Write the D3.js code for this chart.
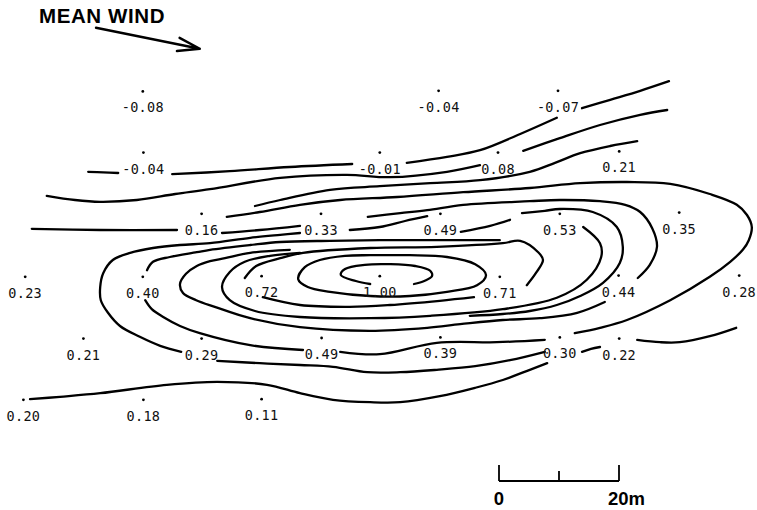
<!DOCTYPE html>
<html><head><meta charset="utf-8">
<script src="https://cdn.jsdelivr.net/npm/d3@7"></script>
<style>body{margin:0;background:#fff}svg{display:block;background:#fff}</style>
</head><body>
<svg id="chart" width="757" height="510"></svg>
<script>
// ---- DATA (map coordinates in metres, x east, y south) ----
// Station rows: [x, y, value]
const stationsRow1 = [[19.8,-0.1,-0.08],[69.1,-0.2,-0.04],[89.0,-0.2,-0.07]];
const stationsRow2 = [[19.9,10.1,-0.04],[59.3,10.1,-0.01],[79.0,10.1,0.08],[99.2,9.9,0.21]];
const stationsRow3 = [[29.6,20.3,0.16],[49.5,20.3,0.33],[69.4,20.3,0.49],[89.3,20.3,0.53],[109.2,20.1,0.35]];
const stationsRow4 = [[0.2,30.8,0.23],[19.8,30.8,0.40],[39.6,30.7,0.72],[59.3,30.7,1.00],[79.3,30.8,0.71],[99.1,30.6,0.44],[119.2,30.6,0.28]];
const stationsRow5 = [[9.9,41.1,0.21],[29.6,41.1,0.29],[49.6,41.0,0.49],[69.4,40.9,0.39],[89.3,40.9,0.30],[99.2,41.1,0.22]];
const stationsRow6 = [[-0.1,51.3,0.20],[19.9,51.3,0.18],[39.6,51.2,0.11]];

// Contour lines (hand-drawn isolines), vertices in metres
const lineA1 = [[93,2.7],[97.7,1.3],[102.7,-0.2],[107.5,-1.8]];
const lineB1 = [[10.7,13.3],[13.2,13.4],[15.7,13.5]];
const lineB2 = [[24.7,13.7],[34.3,13.2],[44.3,12.5],[54.7,12]];
const lineB3 = [[63.8,11.8],[70.5,10.8],[76,9.7],[82.7,7],[88.8,4.3]];
const lineC1 = [[3.8,17.3],[8.5,18],[12.7,18.3],[18.8,18],[25.2,17],[31,16.2],[42.7,14.3],[53.8,13.8],[61,14.2],[70.5,13.3],[76,12.2]];
const lineC2 = [[83.2,9.8],[89.3,7.7],[96,5.5],[102.7,3.8],[107.2,3]];
const lineD = [[38.5,19],[42.7,18],[51,16.3],[59.3,15.7],[67.7,15.2],[76,14.7],[84.3,13.3],[88.5,11.8],[92.7,10.2],[97.7,9],[102.2,8.2]];
const lineOuter = [[33.8,20.8],[39.3,20],[46,18.8],[52.7,18],[62.2,17.5],[73.2,16.7],[84.3,16],[92.7,15.2],[100.5,15],[107.7,15.3],[114.3,17],[118.8,18.8],[120.5,20.5],[121.3,22.5],[120.8,24.7],[119.8,26.3],[117.7,28.3],[114.3,30.8],[107.7,34.7],[100.5,38],[96,39.3],[91.8,40.2]];
const lineX = [[57.3,20.8],[62.7,20.2],[67.2,19.7],[73.2,18.8],[84.3,18.2],[89.3,18],[96,18.2],[100.2,18.8],[102.7,20],[104.7,22.7],[105.5,25.8],[104.3,28.8],[102.3,31]];
const lineE1 = [[1.3,22.8],[12.7,23],[25.5,23]];
const lineE2 = [[33,23.5],[39.3,23],[46,22.3]];
const lineE3 = [[54.3,23],[59.3,22.5],[63.5,21.5],[67.2,20.7]];
const lineE4 = [[72.8,23.3],[77.7,22.3],[81,21.3]];
const lineY = [[83,20.2],[86.8,19.8],[89.3,19.5],[94.8,20],[98.8,22.5],[99.8,25.8],[99.3,28.5],[96.5,31.8],[92.7,34],[88.8,35.5],[84.3,36.5],[79.8,37],[74.3,37.3]];
const lineArcA = [[26.2,43.3],[22.7,42.3],[19.3,40.8],[16,39],[14,36.8],[12.8,34.7],[12.7,32.5],[13.2,30.2],[14.8,28],[17.7,26.8],[21.5,26],[26,25.5],[31,25.2],[37.7,24.3],[42.7,23.8],[46,23.5]];
const lineArcBTop = [[20.5,29.7],[21.5,28.3],[24.3,27.5],[28.8,26.7],[31,26.3],[37.7,25.5],[42.7,25],[51,24.8],[59.3,24.7],[69.3,24.7],[79.3,24.7]];
const lineArcBBottom1 = [[20.2,34.7],[21.3,36.2],[23.2,37.5],[26,39],[29.3,40.2],[37.7,42.2],[46.5,43]];
const lineArcBBottom2 = [[52.7,43.3],[59.3,43.7],[68.8,41.8],[78.8,41.7],[86.8,41.3]];
const lineArcC = [[44.3,26.3],[37.7,26.8],[33.5,27.7],[31,28.2],[28.8,29],[27,30.3],[26,32],[26.5,33.5],[28.7,34.7],[31.8,35.8],[37.7,37.7],[46,39.2],[57.7,39.8],[67.2,39.3],[72.7,38.7],[79.8,38],[86,37.7],[92.2,36.8],[96.8,35]];
const lineArcD = [[46,26.8],[41,27.3],[36.8,28.3],[34.3,30],[33,32.5],[34.3,34.7],[38.5,36.5],[46,37.5],[57.7,37.7],[67.7,37.3],[79.8,36.2],[88.8,34.3],[93.8,31.3],[96.2,27.5],[96,25.2],[93.2,22.5]];
const lineP = [[36.8,31],[38.7,29],[42.7,27.7],[46.5,26.8],[57.7,26],[68.8,25.8],[79.8,25.2],[82.7,24.8],[85.7,26.7],[86.5,28],[85.3,30.2],[83.8,32.2]];
const linePBottom = [[39.8,34.2],[46,35.5],[54.3,35.8],[61,35.5],[69.3,34.8],[75,34.2]];
const lineInner2 = [[45.7,31.2],[46.8,29.2],[49.3,28],[53.5,27.3],[57.7,27.2],[64.3,27.2],[70.5,27.5],[75.2,28.7],[77,30.5],[75.5,32.2],[70.5,33.3],[64.3,34],[57.7,34],[51,33.3],[47.3,32.5]];
const lineInner1 = [[57.7,32],[55.3,31.5],[52.8,30.5],[53.5,29.5],[56.8,28.8],[61,28.7],[65.2,29],[67.7,29.8],[68,30.7],[66.7,31.5],[65,32]];
const lineF = [[32.2,44.8],[39.3,45.2],[46,45.5],[51.5,45.8],[57.2,46.7],[62.7,46.7],[68.8,46.3],[75.2,45.7],[81,44.7],[86.8,43.3]];
const lineG = [[1,51.2],[6,50.8],[12.7,50.2],[23.8,48.8],[32.2,48.3],[40.5,48.8],[46,50.2],[51.5,51.3],[57.7,51.7],[62.7,51.7],[69.3,50.7],[75.2,49.3],[79.8,48],[84.3,46.3],[87.2,45.2]];
const lineR = [[102.2,41.3],[106,41.7],[109.3,41.7],[114.3,40.7],[118.7,39.3]];
const lineS = [[93,43.3],[94.5,42.8],[96,42.5]];

// Wind arrow (metres) and scale bar (metres)
const windArrow = [[12,-10.7],[29.3,-7.2]];
const windLabel = "MEAN WIND";
const scaleBarTicks = [0, 10, 20];
const scaleBarLabels = ["0", "20m"];

// ---- DRAWING ----
const svg = d3.select("#chart");
const x = d3.scaleLinear().domain([0, 100]).range([24, 624]);
const y = d3.scaleLinear().domain([0, 100]).range([92, 692]);

const openLines = [lineA1, lineB1, lineB2, lineB3, lineC1, lineC2, lineD, lineOuter, lineX,
  lineE1, lineE2, lineE3, lineE4, lineY, lineArcA, lineArcBTop, lineArcBBottom1, lineArcBBottom2,
  lineArcC, lineArcD, lineP, linePBottom, lineInner1, lineF, lineG, lineR, lineS];
const closedLines = [lineInner2];

const lineGen = d3.line().x(d => x(d[0])).y(d => y(d[1])).curve(d3.curveCatmullRom.alpha(0.5));
const closedGen = d3.line().x(d => x(d[0])).y(d => y(d[1])).curve(d3.curveCatmullRomClosed.alpha(0.5));

const g = svg.append("g").attr("fill", "none").attr("stroke", "#000")
  .attr("stroke-width", 2.3).attr("stroke-linecap", "round").attr("stroke-linejoin", "round");
g.selectAll("path.open").data(openLines).join("path").attr("class", "open").attr("d", lineGen);
g.selectAll("path.closed").data(closedLines).join("path").attr("class", "closed").attr("d", closedGen);

const stations = [].concat(stationsRow1, stationsRow2, stationsRow3, stationsRow4, stationsRow5, stationsRow6);
const fmt = v => (v < 0 ? "-" : "") + Math.abs(v).toFixed(2);

const st = svg.append("g");
st.selectAll("circle").data(stations).join("circle")
  .attr("cx", d => x(d[0])).attr("cy", d => y(d[1])).attr("r", 1.4).attr("fill", "#000");
st.selectAll("text").data(stations).join("text")
  .attr("x", d => x(d[0])).attr("y", d => y(d[1]) + 21)
  .attr("text-anchor", "middle")
  .attr("font-family", "'DejaVu Sans Mono', 'Liberation Mono', monospace")
  .attr("font-size", 13.5).attr("letter-spacing", 0.3).attr("fill", "#111")
  .text(d => fmt(d[2]));

// Wind annotation
svg.append("text").attr("x", 39).attr("y", 23)
  .attr("font-family", "'Liberation Sans', Arial, sans-serif").attr("font-weight", "bold")
  .attr("font-size", 20.5).attr("letter-spacing", 0.6).attr("fill", "#000").text(windLabel);
const [p0, p1] = windArrow.map(d => [x(d[0]), y(d[1])]);
const ang = Math.atan2(p1[1] - p0[1], p1[0] - p0[0]);
const headLen = 23, spread = 17 * Math.PI / 180;
const arrowPath = d3.path();
arrowPath.moveTo(p0[0], p0[1]); arrowPath.lineTo(p1[0], p1[1]);
arrowPath.moveTo(p1[0] - headLen * Math.cos(ang - spread), p1[1] - headLen * Math.sin(ang - spread));
arrowPath.lineTo(p1[0], p1[1]);
arrowPath.lineTo(p1[0] - headLen * Math.cos(ang + spread), p1[1] - headLen * Math.sin(ang + spread));
svg.append("path").attr("d", arrowPath.toString()).attr("fill", "none").attr("stroke", "#000")
  .attr("stroke-width", 2.4).attr("stroke-linecap", "round").attr("stroke-linejoin", "round");

// Scale bar (uses the same x scale, so 20 m is the map's 20 m)
const barX0 = 499, barY = 481;
const xs = d3.scaleLinear().domain([0, 20]).range([barX0, barX0 + (x(20) - x(0))]);
const sb = svg.append("g").attr("stroke", "#000").attr("stroke-width", 1.8).attr("fill", "none");
sb.append("line").attr("x1", xs(0)).attr("x2", xs(20)).attr("y1", barY).attr("y2", barY);
sb.selectAll("line.tk").data(scaleBarTicks).join("line").attr("class", "tk")
  .attr("x1", d => xs(d)).attr("x2", d => xs(d))
  .attr("y1", d => d === 10 ? barY - 10 : barY - 16).attr("y2", barY);
svg.append("text").attr("x", xs(0)).attr("y", 505).attr("text-anchor", "middle")
  .attr("font-family", "'Liberation Sans', Arial, sans-serif").attr("font-weight", "bold")
  .attr("font-size", 18.5).text(scaleBarLabels[0]);
svg.append("text").attr("x", xs(20) - 11).attr("y", 505).attr("text-anchor", "start")
  .attr("font-family", "'Liberation Sans', Arial, sans-serif").attr("font-weight", "bold")
  .attr("font-size", 18.5).text(scaleBarLabels[1]);
</script>
</body></html>
